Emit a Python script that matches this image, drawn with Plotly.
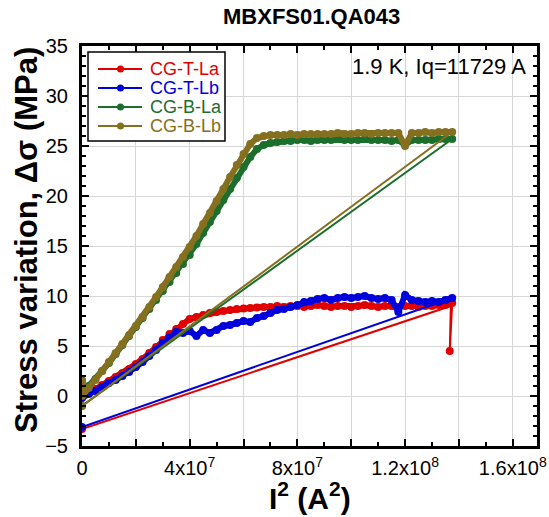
import plotly.graph_objects as go

# shared I^2 sampling (units of 1e7 A^2) read along the ramp/plateau
I2_STEPS = [0, 0.25, 0.5, 0.75, 1.0, 1.25, 1.5, 1.75, 2.0, 2.25, 2.5, 2.75, 3.0, 3.25,
            3.5, 3.75, 4.0, 4.25, 4.5, 4.75, 5.0, 5.25, 5.5, 5.75, 6.0, 6.25, 6.5, 6.75,
            7.0, 7.25, 7.5, 7.75, 8.0, 8.25, 8.5, 8.75, 9.0, 9.25, 9.5, 9.75, 10.0, 10.25,
            10.5, 10.75, 11.0, 11.25, 11.5, 11.75, 12.0, 12.25, 12.5, 12.75, 13.0, 13.25,
            13.5, 13.75]

CG_T_La = [0.0, 0.3, 0.7, 1.1, 1.5, 1.9, 2.3, 2.7, 3.2, 3.7, 4.3, 4.9, 5.6, 6.2,
           6.7, 7.2, 7.7, 7.9, 8.1, 8.3, 8.4, 8.5, 8.6, 8.7, 8.75, 8.8, 8.85, 8.9,
           8.9, 9.0, 8.9, 9.0, 9.0, 8.9, 9.0, 9.1, 9.0, 8.9, 9.0, 9.0, 8.9, 9.0,
           9.1, 9.0, 8.9, 9.0, 9.0, 8.9, 9.0, 9.0, 8.9, 9.0, 9.0, 9.1, 9.1, 9.3]
CG_T_La_tail_x = [13.66, 13.7, 0]
CG_T_La_tail_y = [4.5, 9.0, -3.3]

CG_T_Lb = [-0.2, 0.2, 0.5, 0.9, 1.3, 1.6, 2.0, 2.4, 2.9, 3.4, 4.0, 4.6, 5.3, 5.9,
           6.4, 6.3, 6.5, 6.0, 6.6, 6.3, 6.6, 7.0, 7.1, 7.3, 7.5, 7.4, 7.8, 8.0,
           8.3, 8.6, 8.7, 8.9, 9.1, 9.4, 9.5, 9.7, 9.8, 9.6, 9.8, 9.9, 9.8, 9.9,
           10.0, 9.8, 9.7, 9.8, 9.6, 8.4, 10.1, 9.6, 9.5, 9.4, 9.5, 9.4, 9.6, 9.8]
CG_T_Lb_tail_x = [0]
CG_T_Lb_tail_y = [-3.1]

CG_B_La = [0.3, 1.0, 1.7, 2.5, 3.3, 4.2, 5.1, 6.0, 6.9, 7.8, 8.7, 9.6, 10.5, 11.4,
           12.3, 13.2, 14.1, 15.2, 16.3, 17.4, 18.5, 19.6, 20.7, 21.8, 22.9, 23.9, 24.7, 25.1,
           25.3, 25.4, 25.5, 25.5, 25.6, 25.6, 25.5, 25.6, 25.6, 25.6, 25.7, 25.6, 25.6, 25.6,
           25.7, 25.6, 25.6, 25.6, 25.5, 25.6, 25.1, 25.6, 25.6, 25.6, 25.6, 25.7, 25.7, 25.7]
CG_B_La_head_x = [0]
CG_B_La_head_y = [1.5]
CG_B_La_tail_x = [0]
CG_B_La_tail_y = [-1.0]

CG_B_Lb = [0.0, 0.8, 1.6, 2.5, 3.4, 4.3, 5.2, 6.1, 7.0, 7.9, 8.9, 9.9, 10.9, 11.9,
           12.9, 13.9, 14.9, 16.0, 17.2, 18.3, 19.5, 20.7, 21.9, 23.1, 24.2, 25.2, 25.8, 26.0,
           26.1, 26.1, 26.1, 26.2, 26.1, 26.2, 26.2, 26.2, 26.2, 26.2, 26.3, 26.2, 26.2, 26.3,
           26.3, 26.2, 26.3, 26.3, 26.3, 26.3, 25.0, 26.3, 26.3, 26.4, 26.3, 26.4, 26.4, 26.4]
CG_B_Lb_head_x = [0]
CG_B_Lb_head_y = [1.6]
CG_B_Lb_tail_x = [0]
CG_B_Lb_tail_y = [-1.0]

X_TICK_VALS = [0, 2e7, 4e7, 6e7, 8e7, 1e8, 1.2e8, 1.4e8, 1.6e8]
X_TICK_TEXT = ["0", "", "4x10<sup>7</sup>", "", "8x10<sup>7</sup>", "",
               "1.2x10<sup>8</sup>", "", "1.6x10<sup>8</sup>"]
Y_TICK_VALS = [-5, 0, 5, 10, 15, 20, 25, 30, 35]

SCALE = 1e7
FONT = "Arial, Liberation Sans, sans-serif"
W, H = 549, 517
ML, MR, MT, MB = 82, 12, 46, 71
PW, PH = W - ML - MR, H - MT - MB


def px(xp):
    return (xp - ML) / PW


def py(yp):
    return 1 - (yp - MT) / PH


series = [
    ("CG-T-La", "#e00000", [], [], CG_T_La, CG_T_La_tail_x, CG_T_La_tail_y),
    ("CG-T-Lb", "#0000dd", [], [], CG_T_Lb, CG_T_Lb_tail_x, CG_T_Lb_tail_y),
    ("CG-B-La", "#1b6e2b", CG_B_La_head_x, CG_B_La_head_y, CG_B_La, CG_B_La_tail_x, CG_B_La_tail_y),
    ("CG-B-Lb", "#857020", CG_B_Lb_head_x, CG_B_Lb_head_y, CG_B_Lb, CG_B_Lb_tail_x, CG_B_Lb_tail_y),
]

fig = go.Figure()
for name, color, hx, hy, ys, tx, ty in series:
    # ramp-up and plateau: dense measured band
    xs = [v * SCALE for v in (hx + I2_STEPS)]
    yv = hy + ys
    fig.add_trace(go.Scatter(
        x=xs, y=yv, mode="lines+markers", name=name, showlegend=False,
        line=dict(color=color, width=6),
        marker=dict(color=color, size=8),
    ))
    # ramp-down: thin line back to zero current
    xt = [I2_STEPS[-1] * SCALE] + [v * SCALE for v in tx]
    yt = [ys[-1]] + ty
    fig.add_trace(go.Scatter(
        x=xt, y=yt, mode="lines", name=name, showlegend=False,
        line=dict(color=color, width=2),
    ))
    fig.add_trace(go.Scatter(
        x=xt[-1:], y=yt[-1:], mode="markers", name=name, showlegend=False,
        marker=dict(color=color, size=8),
    ))
    if len(tx) > 1:
        fig.add_trace(go.Scatter(
            x=[tx[0] * SCALE], y=[ty[0]], mode="markers", name=name, showlegend=False,
            marker=dict(color=color, size=8),
        ))

# legend box drawn as shapes + real text
shapes = [dict(type="rect", xref="paper", yref="paper",
               x0=px(88), x1=px(225), y0=py(141), y1=py(52),
               line=dict(color="black", width=1.5), fillcolor="white", layer="above")]
annotations = []
row_y = [69, 88, 107, 126]
for (name, color, *_), ry in zip(series, row_y):
    shapes.append(dict(type="line", xref="paper", yref="paper",
                       x0=px(98), x1=px(142), y0=py(ry), y1=py(ry),
                       line=dict(color=color, width=2), layer="above"))
    shapes.append(dict(type="circle", xref="paper", yref="paper",
                       x0=px(117), x1=px(124), y0=py(ry + 3.5), y1=py(ry - 3.5),
                       line=dict(color=color, width=0), fillcolor=color, layer="above"))
    annotations.append(dict(x=px(148), y=py(ry), xref="paper", yref="paper",
                            xanchor="left", yanchor="middle", text=name, showarrow=False,
                            font=dict(family=FONT, size=18, color=color)))

annotations.append(dict(
    x=px(528), y=py(66), xref="paper", yref="paper", xanchor="right", yanchor="middle",
    text="1.9 K, Iq=11729 A", showarrow=False,
    font=dict(family=FONT, size=22, color="black")))
annotations.append(dict(
    x=px(310), y=py(496), xref="paper", yref="paper", xanchor="center", yanchor="middle",
    text="<b>I<sup>2</sup> (A<sup>2</sup>)</b>", showarrow=False,
    font=dict(family=FONT, size=30, color="black")))
annotations.append(dict(
    x=px(26), y=py(240), xref="paper", yref="paper", xanchor="center", yanchor="middle",
    text="<b>Stress variation, \u0394\u03c3 (MPa)</b>", showarrow=False, textangle=-90,
    font=dict(family=FONT, size=31, color="black")))
annotations.append(dict(
    x=px(311), y=py(16), xref="paper", yref="paper", xanchor="center", yanchor="middle",
    text="<b>MBXFS01.QA043</b>", showarrow=False,
    font=dict(family=FONT, size=22, color="black")))

axis_common = dict(
    showline=True, linecolor="black", linewidth=3, mirror="ticks",
    ticks="inside", tickcolor="black", tickwidth=2, ticklen=7,
    showgrid=True, gridcolor="#d6d6d6", gridwidth=1, zeroline=False,
    tickfont=dict(family=FONT, size=20, color="black"), automargin=False,
)

fig.update_layout(
    width=W, height=H,
    margin=dict(l=ML, r=MR, t=MT, b=MB, autoexpand=False),
    paper_bgcolor="white", plot_bgcolor="white",
    font=dict(family=FONT, color="black"),
    showlegend=False,
    shapes=shapes, annotations=annotations,
    xaxis=dict(
        range=[0, 1.69e8], tickmode="array", tickvals=X_TICK_VALS, ticktext=X_TICK_TEXT,
        minor=dict(dtick=1e7, tick0=0, ticks="inside", ticklen=4, tickwidth=2,
                   tickcolor="black", showgrid=False),
        ticklabelstandoff=2,
        **axis_common,
    ),
    yaxis=dict(
        range=[-5, 35], tickmode="array", tickvals=Y_TICK_VALS,
        minor=dict(dtick=1, tick0=0, ticks="inside", ticklen=4, tickwidth=2,
                   tickcolor="black", showgrid=False),
        ticklabelstandoff=7,
        **axis_common,
    ),
)

fig.write_html("out.html", config={"displayModeBar": False},
               post_script="document.body.style.margin='0';document.body.style.padding='0';")
